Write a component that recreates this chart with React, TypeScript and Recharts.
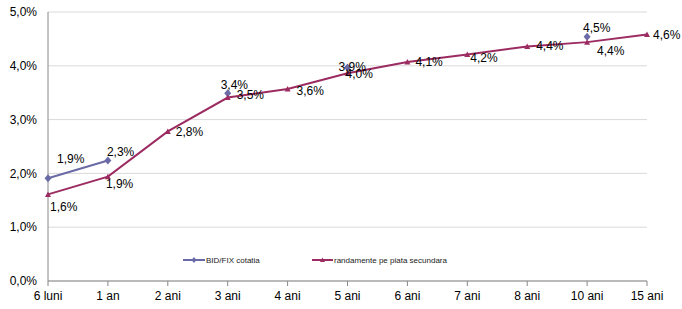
import { CartesianGrid, LabelList, Line, LineChart, XAxis, YAxis } from "recharts";

const categories = ["6 luni", "1 an", "2 ani", "3 ani", "4 ani", "5 ani", "6 ani", "7 ani", "8 ani", "10 ani", "15 ani"];
const bidFix = [1.91, 2.24, null, 3.49, null, 3.97, null, null, null, 4.54, null];
const bidFixLabels = ["1,9%", "2,3%", "", "3,4%", "", "3,9%", "", "", "", "4,5%", ""];
const secondary = [1.61, 1.94, 2.78, 3.41, 3.57, 3.86, 4.07, 4.21, 4.36, 4.44, 4.58];
const secondaryLabels = ["1,6%", "1,9%", "2,8%", "3,5%", "3,6%", "4,0%", "4,1%", "4,2%", "4,4%", "4,4%", "4,6%"];
const yTicks = [0, 1, 2, 3, 4, 5];
const seriesNames = ["BID/FIX cotatia", "randamente pe piata secundara"];

const data = categories.map((c, i) => ({ cat: c, bid: bidFix[i], sec: secondary[i] }));

const BID_COLOR = "#6A6AA6";
const SEC_COLOR = "#9B2B60";
const FONT = "Liberation Sans, Arial, sans-serif";

// label placement (dx, dy from the point), left-aligned text
const bidOffsets: Record<number, [number, number]> = {
  0: [9, -19], 1: [-1, -8], 3: [-7, -8], 5: [-9, 0], 9: [-4, -9],
};
const secOffsets: [number, number][] = [
  [2, 13], [-2, 7], [8, 1], [9, -3], [9, 2], [-2, 1], [8, 0], [3, 3], [9, 0], [10, 9], [6, 0],
];

const Diamond = ({ cx, cy }: any) =>
  cx == null || cy == null ? null : (
    <path d={`M${cx},${cy - 4} L${cx + 3.5},${cy} L${cx},${cy + 4} L${cx - 3.5},${cy} Z`} fill={BID_COLOR} />
  );

const Triangle = ({ cx, cy }: any) =>
  cx == null || cy == null ? null : (
    <path d={`M${cx},${cy - 3} L${cx + 3},${cy + 2.5} L${cx - 3},${cy + 2.5} Z`} fill={SEC_COLOR} />
  );

const makeLabel = (labels: string[], offsets: (i: number) => [number, number] | undefined) => (props: any) => {
  const { x, y, index } = props;
  const text = labels[index];
  const off = offsets(index);
  if (!text || !off || x == null || y == null) return null;
  return (
    <text x={x + off[0]} y={y + off[1]} dominantBaseline="central" fontSize={12} fill="#000" fontFamily={FONT}>
      {text}
    </text>
  );
};

const ChartLegend = () => (
  <svg width={682} height={16} style={{ position: "absolute", left: 0, top: 252 }}>
    <g>
      <line x1={183} y1={8} x2={205} y2={8} stroke={BID_COLOR} strokeWidth={2} />
      <path d="M194,5 L196.5,8 L194,11 L191.5,8 Z" fill={BID_COLOR} />
      <text x={206} y={8} dominantBaseline="central" fontSize={8} fill="#222" fontFamily={FONT}>
        {seriesNames[0]}
      </text>
    </g>
    <g>
      <line x1={312} y1={8} x2={333} y2={8} stroke={SEC_COLOR} strokeWidth={2} />
      <path d="M322.5,5.5 L325,10 L320,10 Z" fill={SEC_COLOR} />
      <text x={334} y={8} dominantBaseline="central" fontSize={8} fill="#222" fontFamily={FONT}>
        {seriesNames[1]}
      </text>
    </g>
  </svg>
);

export default function App() {
  return (
    <div style={{ position: "absolute", left: 0, top: 0, width: 682, height: 309, background: "#fff" }}>
      <LineChart width={682} height={309} data={data} margin={{ top: 12, right: 35, bottom: 0, left: 0 }}>
        <CartesianGrid horizontal vertical={false} stroke="#D9D9D9" />
        <XAxis
          dataKey="cat"
          height={28}
          tickSize={5}
          tickMargin={5}
          stroke="#888"
          tick={{ fill: "#000", fontSize: 12, fontFamily: FONT }}
          interval={0}
        />
        <YAxis
          width={48}
          domain={[0, 5]}
          ticks={yTicks}
          tickLine={false}
          tickSize={5}
          tickMargin={6}
          stroke="#888"
          tickFormatter={(v: number) => v.toFixed(1).replace(".", ",") + "%"}
          tick={{ fill: "#000", fontSize: 12, fontFamily: FONT }}
        />
        <Line
          name={seriesNames[0]}
          dataKey="bid"
          stroke={BID_COLOR}
          strokeWidth={2}
          dot={<Diamond />}
          activeDot={false}
          connectNulls={false}
          isAnimationActive={false}
        >
          <LabelList dataKey="bid" content={makeLabel(bidFixLabels, (i) => bidOffsets[i])} />
        </Line>
        <Line
          name={seriesNames[1]}
          dataKey="sec"
          stroke={SEC_COLOR}
          strokeWidth={2}
          dot={<Triangle />}
          activeDot={false}
          isAnimationActive={false}
        >
          <LabelList dataKey="sec" content={makeLabel(secondaryLabels, (i) => secOffsets[i])} />
        </Line>
      </LineChart>
      <ChartLegend />
    </div>
  );
}
